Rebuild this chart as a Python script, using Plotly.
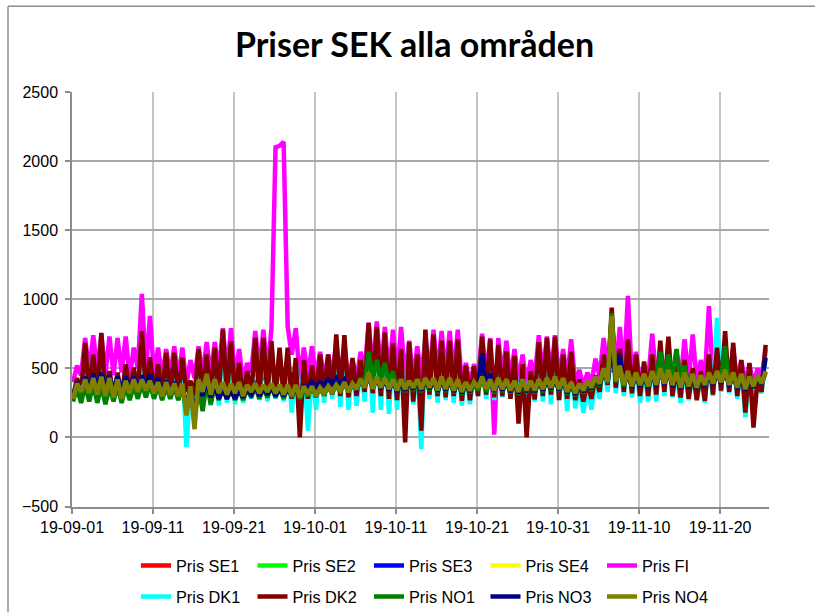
import pandas as pd
import plotly.graph_objects as go

START = "2019-09-01"
N_DAYS = 86

# ---- values (SEK/MWh); "night" = daily low, "day" = daily high ----
fi_night = [400, 450, 470, 480, 460, 450, 470, 430, 500, 480,
            440, 430, 450, 420, 380, 430, 450, 440, 470, 460,
            420, 400, 470, 480, 480, 2100, 2140, 600, 420, 440,
            420, 420, 450, 440, 400, 420, 480, 470, 460, 440,
            450, 420, 420, 430, 460, 450, 460, 450, 380, 380,
            440, 430, 20, 430, 410, 400, 380, 430, 450, 440,
            420, 420, 380, 370, 390, 440, 470, 480, 450, 420,
            400, 420, 430, 430, 420, 420, 410, 400, 430, 430,
            440, 420, 400, 390, 380, 430]
fi_day = [520, 720, 740, 745, 730, 720, 730, 650, 1040, 880,
          650, 640, 660, 650, 560, 660, 690, 690, 790, 790,
          640, 540, 770, 780, 790, 2110, 800, 790, 650, 660,
          620, 600, 680, 670, 560, 620, 830, 840, 800, 780,
          800, 700, 660, 720, 780, 770, 770, 780, 540, 530,
          750, 720, 720, 700, 640, 600, 560, 740, 730, 740,
          640, 710, 490, 470, 570, 720, 860, 800, 1025, 620,
          510, 750, 600, 630, 610, 710, 745, 560, 950, 690,
          650, 640, 560, 530, 500, 640]

dk2_night = [290, 320, 300, 310, 300, 290, 280, 300, 320, 330,
             310, 300, 300, 290, 330, 300, 300, 290, 300, 300,
             290, 280, 300, 300, 310, 300, 300, 280, 0, 280,
             290, 300, 310, 300, 290, 300, 330, 320, 300, 280,
             270, -35, 260, 50, 310, 300, 290, 300, 265, 270,
             300, 310, 290, 300, 280, 100, 0, 275, 300, 310,
             270, 280, 270, 260, 280, 330, 380, 360, 330, 320,
             300, 300, 310, 330, 300, 290, 280, 270, 265, 310,
             340, 330, 300, 180, 72, 330]
dk2_day = [430, 685, 600, 757, 480, 470, 530, 505, 770, 580,
           530, 613, 613, 577, 410, 640, 600, 650, 780, 697,
           541, 480, 721, 721, 697, 650, 650, 575, 560, 520,
           600, 600, 745, 740, 575, 560, 830, 800, 760, 680,
           640, 690, 600, 780, 745, 700, 700, 710, 520, 515,
           730, 710, 670, 625, 590, 530, 480, 690, 720, 730,
           600, 620, 420, 400, 450, 600, 940, 640, 710, 600,
           550, 600, 700, 730, 520, 560, 500, 480, 600, 650,
           770, 685, 560, 540, 420, 670]

dk1_night = [300, 290, 280, 300, 290, 280, 270, 290, 300, 290,
             290, 280, 290, 270, -70, 150, 250, 230, 230, 250,
             240, 250, 280, 270, 260, 280, 260, 180, 230, 50,
             200, 250, 280, 220, 200, 230, 260, 180, 200, 170,
             200, 150, 240, -85, 280, 250, 270, 250, 230, 240,
             300, 280, 270, 290, 280, 260, 250, 260, 260, 240,
             270, 190, 210, 180, 200, 280, 330, 320, 300, 290,
             250, 260, 260, 300, 290, 250, 270, 280, 250, 300,
             330, 320, 280, 145, 200, 320]
dk1_day = [400, 640, 560, 700, 450, 440, 500, 480, 720, 540,
           500, 580, 580, 540, 380, 600, 560, 610, 740, 660,
           510, 450, 680, 690, 660, 610, 610, 540, 520, 480,
           560, 560, 700, 700, 540, 520, 780, 760, 720, 640,
           600, 650, 560, 740, 700, 660, 660, 670, 480, 480,
           690, 670, 630, 590, 550, 490, 440, 650, 680, 690,
           560, 580, 390, 370, 420, 560, 880, 600, 670, 560,
           510, 560, 660, 690, 490, 520, 460, 450, 560, 865,
           720, 640, 520, 500, 390, 620]

no4_night = [280, 330, 320, 310, 300, 290, 280, 320, 330, 340,
             320, 300, 310, 300, 160, 60, 330, 310, 320, 310,
             320, 300, 330, 320, 330, 320, 310, 300, 290, 310,
             300, 320, 330, 340, 330, 350, 360, 350, 360, 350,
             340, 350, 360, 350, 360, 340, 350, 340, 330, 340,
             360, 350, 340, 350, 340, 330, 340, 340, 350, 360,
             350, 330, 320, 340, 360, 390, 400, 410, 380, 370,
             380, 370, 380, 390, 380, 360, 370, 360, 380, 390,
             400, 380, 360, 350, 370, 390]
no4_day = [390, 420, 430, 440, 430, 420, 410, 420, 420, 410,
           400, 400, 390, 390, 370, 420, 460, 420, 400, 390,
           400, 380, 390, 380, 390, 380, 380, 380, 370, 370,
           360, 370, 380, 400, 390, 420, 470, 440, 430, 420,
           420, 410, 420, 430, 430, 440, 430, 420, 400, 400,
           440, 420, 430, 420, 410, 420, 410, 420, 430, 440,
           430, 400, 390, 410, 440, 500, 880, 520, 480, 470,
           460, 480, 500, 490, 470, 470, 460, 450, 470, 480,
           490, 470, 460, 440, 450, 480]

no1_night = [260, 250, 260, 250, 240, 260, 250, 270, 280, 290,
             280, 270, 280, 270, 200, 150, 190, 240, 270, 280,
             270, 270, 290, 280, 290, 290, 280, 290, 280, 300,
             300, 310, 320, 330, 330, 350, 380, 420, 420, 380,
             340, 330, 340, 330, 340, 320, 330, 320, 310, 320,
             340, 330, 320, 330, 320, 310, 320, 320, 330, 340,
             330, 310, 300, 320, 340, 370, 390, 400, 370, 360,
             370, 360, 420, 430, 440, 400, 360, 350, 370, 380,
             420, 370, 350, 340, 360, 380]
no1_day = [360, 380, 390, 380, 370, 380, 370, 380, 390, 390,
           380, 370, 370, 370, 350, 380, 400, 380, 370, 370,
           360, 360, 370, 360, 370, 360, 360, 360, 350, 360,
           360, 370, 380, 390, 380, 430, 620, 560, 540, 480,
           420, 400, 410, 420, 420, 430, 420, 410, 390, 390,
           430, 410, 420, 410, 400, 410, 400, 410, 420, 430,
           420, 390, 380, 400, 430, 490, 900, 510, 470, 460,
           450, 470, 620, 600, 640, 520, 450, 440, 460, 470,
           660, 460, 450, 430, 440, 470]

no3_night = [300, 340, 350, 350, 340, 330, 330, 340, 350, 350,
             340, 320, 320, 310, 200, 150, 300, 290, 280, 280,
             280, 290, 310, 300, 310, 300, 300, 300, 300, 360,
             370, 380, 390, 390, 340, 350, 360, 350, 350, 340,
             330, 340, 350, 340, 350, 330, 340, 330, 320, 330,
             360, 350, 330, 340, 330, 320, 330, 330, 340, 350,
             340, 320, 310, 330, 350, 380, 400, 420, 380, 360,
             370, 360, 370, 380, 370, 350, 360, 350, 370, 380,
             390, 370, 350, 340, 360, 380]
no3_day = [400, 440, 460, 470, 450, 440, 440, 440, 450, 460,
           430, 410, 400, 390, 360, 380, 420, 380, 350, 340,
           340, 350, 370, 360, 370, 360, 360, 360, 370, 400,
           400, 420, 430, 420, 390, 410, 450, 430, 420, 410,
           410, 400, 410, 420, 420, 430, 420, 410, 390, 400,
           610, 460, 420, 410, 400, 410, 400, 410, 420, 430,
           420, 390, 380, 400, 430, 490, 650, 600, 470, 460,
           450, 470, 490, 480, 460, 460, 450, 440, 460, 470,
           480, 460, 450, 430, 440, 575]

# Swedish areas (mostly hidden under the other lines): one value per day
se1 = [330, 370, 380, 380, 370, 360, 350, 370, 380, 380,
       360, 350, 350, 350, 260, 250, 390, 370, 360, 350,
       360, 340, 360, 350, 360, 350, 345, 340, 330, 340,
       330, 345, 355, 370, 360, 385, 415, 400, 395, 385,
       380, 380, 390, 390, 395, 390, 390, 380, 365, 370,
       400, 385, 385, 385, 375, 375, 375, 380, 390, 400,
       390, 365, 355, 375, 400, 445, 500, 465, 430, 420,
       420, 425, 440, 440, 425, 415, 415, 405, 425, 435,
       445, 425, 410, 395, 410, 435]
se2 = [335, 372, 378, 382, 368, 362, 352, 368, 378, 378,
       362, 352, 348, 352, 262, 255, 388, 372, 358, 352,
       358, 342, 358, 352, 358, 352, 348, 342, 332, 338,
       332, 342, 358, 368, 362, 382, 412, 402, 392, 388,
       382, 378, 388, 392, 392, 392, 388, 382, 368, 372,
       398, 388, 382, 388, 378, 372, 378, 382, 388, 398,
       392, 368, 358, 372, 398, 442, 498, 462, 432, 422,
       418, 428, 438, 442, 428, 418, 412, 408, 422, 438,
       442, 428, 412, 398, 412, 432]
se3 = [340, 375, 385, 385, 375, 365, 355, 375, 385, 385,
       365, 355, 355, 355, 270, 260, 390, 375, 360, 355,
       360, 345, 365, 450, 365, 355, 350, 345, 335, 345,
       340, 350, 360, 375, 365, 390, 420, 405, 400, 390,
       385, 385, 395, 395, 400, 395, 395, 385, 370, 375,
       405, 390, 390, 390, 380, 380, 380, 385, 395, 405,
       395, 370, 360, 380, 405, 450, 505, 470, 435, 425,
       425, 430, 445, 445, 430, 420, 420, 410, 430, 440,
       450, 430, 415, 400, 415, 440]
se4 = [345, 380, 385, 390, 380, 370, 360, 380, 390, 390,
       370, 360, 360, 360, 275, 265, 395, 380, 365, 360,
       365, 350, 370, 360, 450, 360, 355, 350, 340, 350,
       345, 355, 365, 380, 370, 395, 425, 410, 405, 395,
       390, 390, 400, 400, 405, 400, 400, 390, 375, 380,
       410, 395, 395, 395, 385, 385, 385, 390, 400, 410,
       400, 375, 365, 385, 410, 455, 510, 475, 440, 430,
       430, 435, 450, 450, 435, 425, 425, 415, 435, 445,
       455, 435, 420, 405, 420, 445]

y_ticks = [-500, 0, 500, 1000, 1500, 2000, 2500]

# ---- build time stamps ----
days = pd.date_range(START, periods=N_DAYS, freq="D")
pair_times = []
for d in days:
    pair_times.append(d + pd.Timedelta(hours=3))
    pair_times.append(d + pd.Timedelta(hours=15))
daily_times = [d + pd.Timedelta(hours=9) for d in days]


def interleave(night, day):
    out = []
    for a, b in zip(night, day):
        out.append(a)
        out.append(b)
    return out


series = [
    ("Pris SE1", daily_times, se1, "#FF0000", "legend"),
    ("Pris SE2", daily_times, se2, "#00FF00", "legend"),
    ("Pris SE3", daily_times, se3, "#0000FF", "legend"),
    ("Pris SE4", daily_times, se4, "#FFFF00", "legend"),
    ("Pris FI", pair_times, interleave(fi_night, fi_day), "#FF00FF", "legend"),
    ("Pris DK1", pair_times, interleave(dk1_night, dk1_day), "#00FFFF", "legend2"),
    ("Pris DK2", pair_times, interleave(dk2_night, dk2_day), "#800000", "legend2"),
    ("Pris NO1", pair_times, interleave(no1_night, no1_day), "#008000", "legend2"),
    ("Pris NO3", pair_times, interleave(no3_night, no3_day), "#000080", "legend2"),
    ("Pris NO4", pair_times, interleave(no4_night, no4_day), "#808000", "legend2"),
]

fig = go.Figure()
for name, xs, ys, color, leg in series:
    fig.add_trace(go.Scatter(
        x=xs, y=ys, name=name, mode="lines",
        line=dict(color=color, width=4.5),
        legend=leg,
    ))

W, H = 815, 614
L, R, T, B = 72, 46, 92, 106
pw, ph = W - L - R, H - T - B


def px_x(px):
    return (px - L) / pw


def px_y(py):
    return (H - B - py) / ph


tick_font = dict(family="Liberation Sans, Arial, sans-serif", size=16, color="#000000")
legend_font = dict(family="Liberation Sans, Arial, sans-serif", size=16.3, color="#000000")

border = dict(color="#8c8c8c", width=1.5)

fig.update_layout(
    width=W, height=H,
    margin=dict(l=L, r=R, t=T, b=B),
    paper_bgcolor="white", plot_bgcolor="white",
    title=dict(
        text="<b>Priser SEK alla områden</b>",
        font=dict(family="Lato, Open Sans, sans-serif", size=34, color="#000000"),
        x=414.5 / W, xref="container", xanchor="center",
        y=1 - 45 / H, yref="container", yanchor="middle",
    ),
    xaxis=dict(
        type="date",
        range=["2019-09-01 00:00", "2019-11-26 01:00"],
        tick0="2019-09-01", dtick=10 * 86400000,
        tickformat="%y-%m-%d",
        showgrid=True, gridcolor="#c4c4c4", gridwidth=1.5,
        showline=True, linecolor="#8c8c8c", linewidth=1.5,
        ticks="outside", ticklen=6, tickcolor="#8c8c8c", tickwidth=1.5,
        tickfont=tick_font, zeroline=False,
    ),
    yaxis=dict(
        range=[-500, 2500],
        tickvals=y_ticks,
        showgrid=True, gridcolor="#a8a8a8", gridwidth=1.5,
        showline=True, linecolor="#8c8c8c", linewidth=1.5,
        ticks="outside", ticklen=5, tickcolor="#8c8c8c", tickwidth=1.5,
        tickfont=tick_font, zeroline=False,
        ticklabelstandoff=4,
    ),
    legend=dict(
        orientation="h", xref="container", yref="container",
        x=136 / W, y=1 - 566 / H, xanchor="left", yanchor="middle",
        entrywidth=71.5, entrywidthmode="pixels",
        font=legend_font, bgcolor="rgba(0,0,0,0)", traceorder="normal",
    ),
    legend2=dict(
        orientation="h", xref="container", yref="container",
        x=136 / W, y=1 - 597 / H, xanchor="left", yanchor="middle",
        entrywidth=71.5, entrywidthmode="pixels",
        font=legend_font, bgcolor="rgba(0,0,0,0)", traceorder="normal",
    ),
    shapes=[
        # chart frame: left and top edges (right/bottom lie outside the picture)
        dict(type="line", xref="paper", yref="paper",
             x0=px_x(8), x1=px_x(8), y0=px_y(6), y1=px_y(H),
             line=border, layer="below"),
        dict(type="line", xref="paper", yref="paper",
             x0=px_x(8), x1=px_x(W), y0=px_y(6), y1=px_y(6),
             line=border, layer="below"),
    ],
)

# remove the browser's default page margin and scrollbars so the figure sits at the window origin
fig.write_html(
    "out.html",
    config={"displayModeBar": False},
    post_script=(
        "document.body.style.margin='0px';"
        "document.body.style.overflow='hidden';"
        "document.documentElement.style.overflow='hidden';"
    ),
)
